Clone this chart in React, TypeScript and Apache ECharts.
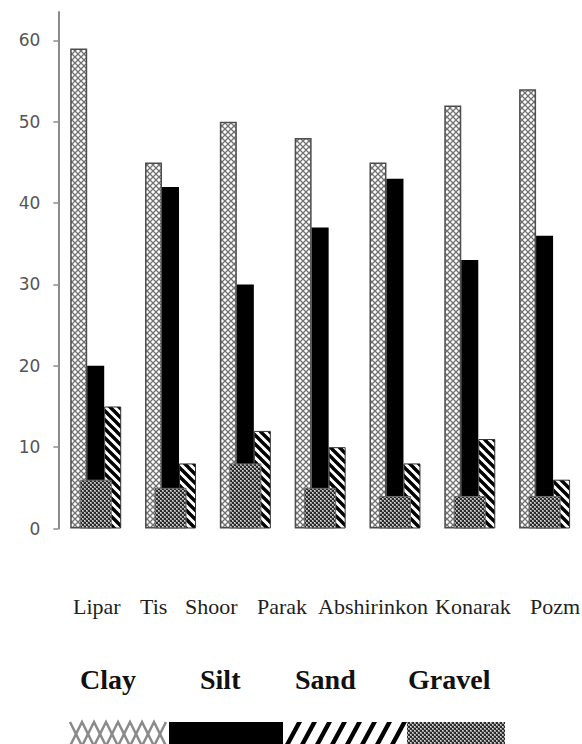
import React, { useEffect, useRef } from "react";
import * as echarts from "echarts";

const categories = ["Lipar", "Tis", "Shoor", "Parak", "Abshirinkon", "Konarak", "Pozm"];
const clay = [59, 45, 50, 48, 45, 52, 54];
const silt = [20, 42, 30, 37, 43, 33, 36];
const sand = [15, 8, 12, 10, 8, 11, 6];
const gravel = [6, 5, 8, 5, 4, 4, 4];
const yTicks = [0, 10, 20, 30, 40, 50, 60];
const seriesNames = ["Clay", "Silt", "Sand", "Gravel"];

// layout (label positions, not data)
const catLabelX = [73, 140, 185, 257, 318, 435, 530];
const legendLabelX = [80, 200, 295, 408];

function makeTile(w: number, h: number, draw: (c: CanvasRenderingContext2D) => void) {
  const cv = document.createElement("canvas");
  cv.width = w;
  cv.height = h;
  const ctx = cv.getContext("2d")!;
  draw(ctx);
  return { image: cv, repeat: "repeat", imageWidth: w, imageHeight: h } as any;
}

export default function App() {
  const ref = useRef<HTMLDivElement>(null);
  useEffect(() => {
    if (!ref.current) return;
    const chart = echarts.init(ref.current, null, { renderer: "svg" });

    const clayPat = makeTile(6, 6, (c) => {
      c.fillStyle = "#fff";
      c.fillRect(0, 0, 6, 6);
      c.strokeStyle = "#727272";
      c.lineWidth = 1.3;
      c.beginPath();
      c.moveTo(0, 0); c.lineTo(6, 6);
      c.moveTo(6, 0); c.lineTo(0, 6);
      c.stroke();
    });
    const sandPat = makeTile(9, 9, (c) => {
      c.fillStyle = "#fff";
      c.fillRect(0, 0, 9, 9);
      c.strokeStyle = "#000";
      c.lineWidth = 3.4;
      c.beginPath();
      for (const o of [-9, 0, 9]) {
        c.moveTo(o - 1, -1);
        c.lineTo(o + 10, 10);
      }
      c.stroke();
    });
    const gravelPat = makeTile(4, 4, (c) => {
      c.fillStyle = "#2a2a2a";
      c.fillRect(0, 0, 4, 4);
      c.fillStyle = "#9a9a9a";
      c.fillRect(0, 0, 2, 2);
      c.fillRect(2, 2, 2, 2);
      c.fillStyle = "#d8d8d8";
      c.fillRect(0, 0, 1, 1);
      c.fillRect(2, 2, 1, 1);
    });

    const graphics: any[] = [];
    categories.forEach((name, i) => {
      graphics.push({
        type: "text",
        x: catLabelX[i],
        y: 606,
        style: {
          text: name,
          fontFamily: "Liberation Serif",
          fontSize: 22,
          fill: "#1e1e1e",
          verticalAlign: "middle",
          align: "left",
        },
      });
    });
    seriesNames.forEach((name, i) => {
      graphics.push({
        type: "text",
        x: legendLabelX[i],
        y: 679,
        style: {
          text: name,
          fontFamily: "Liberation Serif",
          fontWeight: "bold",
          fontSize: 28,
          fill: "#111",
          verticalAlign: "middle",
          align: "left",
        },
      });
    });
    // Clay swatch: chain of X's
    const za: number[][] = [];
    const zb: number[][] = [];
    for (let i = 0; i <= 8; i++) {
      const x = 70 + 12 * i;
      za.push([x, i % 2 === 0 ? 722 : 746]);
      zb.push([x, i % 2 === 0 ? 746 : 722]);
    }
    graphics.push({ type: "polyline", shape: { points: za }, style: { stroke: "#8a8a8a", lineWidth: 2.5, fill: null } });
    graphics.push({ type: "polyline", shape: { points: zb }, style: { stroke: "#8a8a8a", lineWidth: 2.5, fill: null } });
    // Silt swatch
    graphics.push({ type: "rect", shape: { x: 169, y: 722, width: 114, height: 24 }, style: { fill: "#000" } });
    // Sand swatch stripes
    for (let k = 0; k < 8; k++) {
      const x = 284 + 15 * k;
      graphics.push({
        type: "polygon",
        shape: { points: [[x, 746], [x + 5, 746], [x + 18, 722], [x + 13, 722]] },
        style: { fill: "#000" },
      });
    }
    // Gravel swatch
    graphics.push({ type: "rect", shape: { x: 407, y: 722, width: 98, height: 24 }, style: { fill: gravelPat } });

    chart.setOption({
      animation: false,
      backgroundColor: "#fff",
      grid: { left: 58.3, top: 12, width: 527.8, height: 516.5, containLabel: false },
      xAxis: [
        { type: "category", data: categories, show: false },
        { type: "category", data: categories, show: false },
      ],
      yAxis: {
        type: "value",
        min: 0,
        max: 63.5,
        interval: 10,
        axisLine: { show: true, lineStyle: { color: "#8c8c8c", width: 2 } },
        axisTick: { show: true, length: 5, lineStyle: { color: "#8c8c8c", width: 1.5 }, customValues: yTicks },
        axisLabel: {
          customValues: yTicks,
          margin: 18,
          color: "#555",
          fontSize: 17,
          fontFamily: "DejaVu Sans",
        },
        splitLine: { show: false },
      },
      series: [
        {
          name: seriesNames[0],
          type: "bar",
          xAxisIndex: 0,
          data: clay,
          barWidth: 17,
          barGap: "0%",
          itemStyle: { color: clayPat, borderColor: "#4d4d4d", borderWidth: 1.5 },
          z: 2,
        },
        {
          name: seriesNames[1],
          type: "bar",
          xAxisIndex: 0,
          data: silt,
          barWidth: 17,
          barGap: "0%",
          itemStyle: { color: "#000" },
          z: 2,
        },
        {
          name: seriesNames[2],
          type: "bar",
          xAxisIndex: 0,
          data: sand,
          barWidth: 17,
          barGap: "0%",
          itemStyle: { color: sandPat, borderColor: "#333", borderWidth: 1 },
          z: 2,
        },
        {
          name: seriesNames[3],
          type: "bar",
          xAxisIndex: 1,
          data: gravel,
          barWidth: 32,
          itemStyle: { color: gravelPat, borderColor: "#6b6b6b", borderWidth: 1 },
          z: 3,
        },
      ],
      graphic: graphics,
    });
    return () => chart.dispose();
  }, []);
  return (
    <div
      ref={ref}
      style={{ position: "absolute", left: 0, top: 0, width: 582, height: 744 }}
    />
  );
}
